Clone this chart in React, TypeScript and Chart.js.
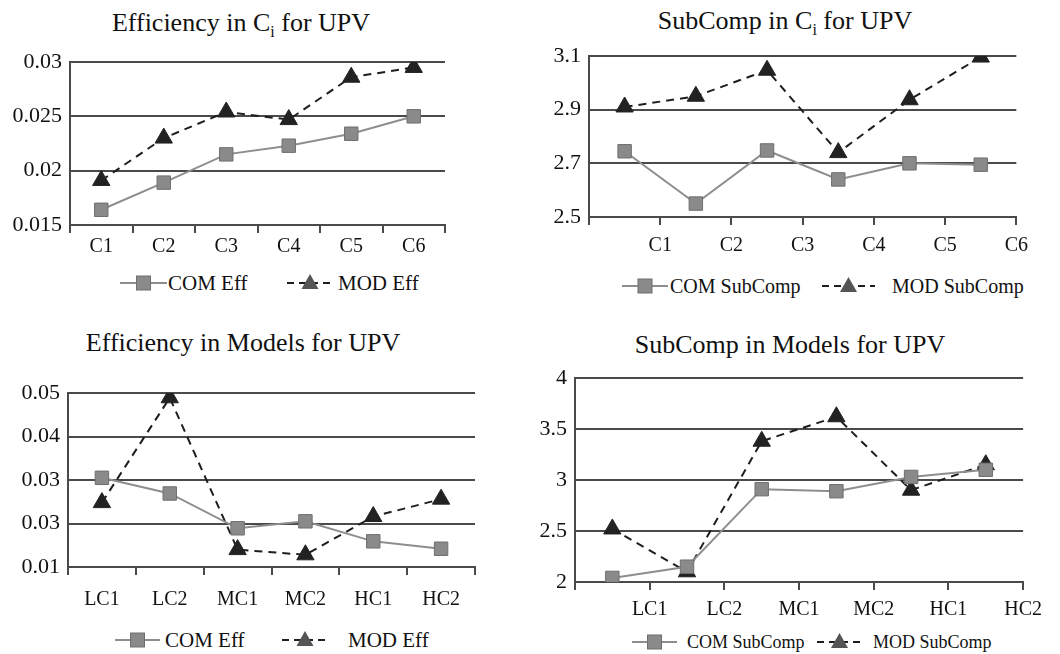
import React, { useEffect, useRef } from "react";
import { Chart, registerables } from "chart.js";

Chart.register(...registerables);

// ---------- data ----------
const ciCategories = ["C1", "C2", "C3", "C4", "C5", "C6"];
const modelCategories = ["LC1", "LC2", "MC1", "MC2", "HC1", "HC2"];

const effCiCom = [0.0164, 0.0189, 0.0215, 0.0223, 0.0234, 0.025];
const effCiMod = [0.0191, 0.023, 0.0254, 0.0247, 0.0286, 0.0295];

const subCiCom = [2.745, 2.55, 2.748, 2.64, 2.7, 2.695];
const subCiMod = [2.91, 2.95, 3.047, 2.74, 2.937, 3.096];

const effModelCom = [0.0305, 0.0269, 0.0189, 0.0205, 0.0159, 0.0142];
const effModelMod = [0.0248, 0.0489, 0.014, 0.0128, 0.0216, 0.0256];

const subModelCom = [2.04, 2.15, 2.91, 2.89, 3.03, 3.1];
const subModelMod = [2.52, 2.1, 3.38, 3.62, 2.9, 3.15];

const effCiTicks = ["0.015", "0.02", "0.025", "0.03"];
const subCiTicks = ["2.5", "2.7", "2.9", "3.1"];
const effModelTicks = ["0.01", "0.03", "0.03", "0.04", "0.05"];
const subModelTicks = ["2", "2.5", "3", "3.5", "4"];

// ---------- styles ----------
const FONT = "'Liberation Serif', 'Times New Roman', serif";
const TEXT = "#111111";
const GRID = "#4a4a4a";
const AXIS = "#4a4a4a";
const COM_LINE = "#8e8e8e";
const COM_FILL = "#8a8a8a";
const COM_EDGE = "#6f6f6f";
const MOD_LINE = "#1e1e1e";
const MOD_FILL = "#222222";

type Panel = {
  left: number;
  top: number;
  width: number;
  height: number;
  padTop: number;
  padRight: number;
  yWidth: number;
  xHeight: number;
  xPad: number;
  categories: string[];
  com: number[];
  mod: number[];
  yMin: number;
  yMax: number;
  yStep: number;
  yTicks: string[];
  shifted: boolean;
};

function buildConfig(p: Panel): any {
  const comData = p.shifted ? p.com.map((v, i) => ({ x: i + 0.5, y: v })) : p.com;
  const modData = p.shifted ? p.mod.map((v, i) => ({ x: i + 0.5, y: v })) : p.mod;

  const tickFontX = { family: FONT, size: 20 };
  const tickFontY = { family: FONT, size: 22 };

  const xScale: any = p.shifted
    ? {
        type: "linear",
        min: 0,
        max: p.categories.length,
        ticks: {
          stepSize: 1,
          autoSkip: false,
          maxRotation: 0,
          padding: p.xPad,
          color: TEXT,
          font: tickFontX,
          callback: (v: number) =>
            v >= 1 && Number.isInteger(v) ? p.categories[v - 1] : "",
        },
        grid: {
          drawOnChartArea: false,
          drawTicks: true,
          tickLength: 8,
          color: AXIS,
          lineWidth: 2,
        },
        border: { display: true, color: AXIS, width: 2 },
        afterFit: (s: any) => {
          s.height = p.xHeight;
        },
      }
    : {
        type: "category",
        labels: p.categories,
        offset: true,
        ticks: {
          autoSkip: false,
          maxRotation: 0,
          padding: p.xPad,
          color: TEXT,
          font: tickFontX,
        },
        grid: {
          offset: true,
          drawOnChartArea: false,
          drawTicks: true,
          tickLength: 8,
          color: AXIS,
          lineWidth: 2,
        },
        border: { display: true, color: AXIS, width: 2 },
        afterFit: (s: any) => {
          s.height = p.xHeight;
        },
      };

  return {
    type: "line",
    data: {
      labels: p.shifted ? undefined : p.categories,
      datasets: [
        {
          label: "COM",
          data: comData,
          borderColor: COM_LINE,
          borderWidth: 2,
          pointStyle: "rect",
          pointRadius: 9.5,
          pointBackgroundColor: COM_FILL,
          pointBorderColor: COM_EDGE,
          pointBorderWidth: 1,
          tension: 0,
          fill: false,
        },
        {
          label: "MOD",
          data: modData,
          borderColor: MOD_LINE,
          borderWidth: 2,
          borderDash: [8, 6],
          pointStyle: "triangle",
          pointRadius: 10,
          pointBackgroundColor: MOD_FILL,
          pointBorderColor: MOD_FILL,
          pointBorderWidth: 1,
          tension: 0,
          fill: false,
        },
      ],
    },
    options: {
      animation: false,
      responsive: true,
      maintainAspectRatio: false,
      layout: {
        padding: { top: p.padTop, right: p.padRight, left: 0, bottom: 0 },
      },
      plugins: {
        legend: { display: false },
        title: { display: false },
        tooltip: { enabled: false },
      },
      scales: {
        x: xScale,
        y: {
          type: "linear",
          min: p.yMin,
          max: p.yMax,
          ticks: {
            stepSize: p.yStep,
            padding: 8,
            color: TEXT,
            font: tickFontY,
            callback: (v: number) => {
              const idx = Math.round((v - p.yMin) / p.yStep);
              return p.yTicks[idx] ?? "";
            },
          },
          grid: {
            drawTicks: false,
            color: GRID,
            lineWidth: 2,
          },
          border: { display: true, color: AXIS, width: 2 },
          afterFit: (s: any) => {
            s.width = p.yWidth;
          },
        },
      },
    },
  };
}

function ChartPanel({ p }: { p: Panel }) {
  const ref = useRef<HTMLCanvasElement | null>(null);
  useEffect(() => {
    if (!ref.current) return;
    const chart = new Chart(ref.current, buildConfig(p));
    return () => chart.destroy();
  }, [p]);
  return (
    <div
      style={{
        position: "absolute",
        left: p.left,
        top: p.top,
        width: p.width,
        height: p.height,
      }}
    >
      <canvas ref={ref} />
    </div>
  );
}

function Title({
  cx,
  top,
  children,
}: {
  cx: number;
  top: number;
  children: React.ReactNode;
}) {
  return (
    <div
      style={{
        position: "absolute",
        left: cx - 250,
        width: 500,
        top,
        textAlign: "center",
        fontFamily: FONT,
        fontSize: 26,
        lineHeight: "26px",
        color: TEXT,
        whiteSpace: "nowrap",
      }}
    >
      {children}
    </div>
  );
}

function LegendItem({
  x,
  cy,
  w,
  textX,
  kind,
  label,
  size,
}: {
  x: number;
  cy: number;
  w: number;
  textX: number;
  kind: "com" | "mod";
  label: string;
  size: number;
}) {
  const h = 24;
  const mid = w / 2;
  return (
    <>
      <svg
        width={w}
        height={h}
        style={{ position: "absolute", left: x, top: cy - h / 2 }}
      >
        {kind === "com" ? (
          <>
            <line x1={0} y1={h / 2} x2={w} y2={h / 2} stroke={COM_LINE} strokeWidth={2} />
            <rect
              x={mid - 7}
              y={h / 2 - 7}
              width={14}
              height={14}
              fill={COM_FILL}
              stroke={COM_EDGE}
              strokeWidth={1}
            />
          </>
        ) : (
          <>
            <line
              x1={0}
              y1={h / 2}
              x2={w}
              y2={h / 2}
              stroke={MOD_LINE}
              strokeWidth={2}
              strokeDasharray="7 5"
            />
            <polygon
              points={`${mid},${h / 2 - 9} ${mid + 8.5},${h / 2 + 6} ${mid - 8.5},${h / 2 + 6}`}
              fill="#555"
            />
          </>
        )}
      </svg>
      <div
        style={{
          position: "absolute",
          left: textX,
          top: cy - 15,
          height: 30,
          lineHeight: "30px",
          fontFamily: FONT,
          fontSize: size,
          color: TEXT,
          whiteSpace: "nowrap",
        }}
      >
        {label}
      </div>
    </>
  );
}

const panel1: Panel = {
  left: 0, top: 40, width: 465, height: 225, padTop: 22, padRight: 20,
  yWidth: 70, xHeight: 40, xPad: 2,
  categories: ciCategories, com: effCiCom, mod: effCiMod,
  yMin: 0.015, yMax: 0.03, yStep: 0.005, yTicks: effCiTicks, shifted: false,
};
const panel2: Panel = {
  left: 520, top: 34, width: 517, height: 223, padTop: 22, padRight: 20,
  yWidth: 69, xHeight: 40, xPad: 9,
  categories: ciCategories, com: subCiCom, mod: subCiMod,
  yMin: 2.5, yMax: 3.1, yStep: 0.2, yTicks: subCiTicks, shifted: true,
};
const panel3: Panel = {
  left: 0, top: 371, width: 495, height: 241, padTop: 22, padRight: 20,
  yWidth: 68, xHeight: 45, xPad: 13,
  categories: modelCategories, com: effModelCom, mod: effModelMod,
  yMin: 0.01, yMax: 0.05, yStep: 0.01, yTicks: effModelTicks, shifted: false,
};
const panel4: Panel = {
  left: 520, top: 356, width: 530, height: 266, padTop: 22, padRight: 20,
  yWidth: 55, xHeight: 40, xPad: 8,
  categories: modelCategories, com: subModelCom, mod: subModelMod,
  yMin: 2, yMax: 4, yStep: 0.5, yTicks: subModelTicks, shifted: true,
};

export default function App() {
  return (
    <div
      style={{
        position: "absolute",
        left: 0,
        top: 0,
        width: 1060,
        height: 654,
        background: "#ffffff",
        overflow: "hidden",
      }}
    >
      <Title cx={241} top={10}>
        Efficiency in C<sub style={{ fontSize: 16 }}>i</sub> for UPV
      </Title>
      <Title cx={785} top={8}>
        SubComp in C<sub style={{ fontSize: 16 }}>i</sub> for UPV
      </Title>
      <Title cx={243} top={330}>
        Efficiency in Models for UPV
      </Title>
      <Title cx={790} top={332}>
        SubComp in Models for UPV
      </Title>

      <ChartPanel p={panel1} />
      <ChartPanel p={panel2} />
      <ChartPanel p={panel3} />
      <ChartPanel p={panel4} />

      <LegendItem x={120} cy={283} w={47} textX={168} kind="com" label="COM Eff" size={21} />
      <LegendItem x={287} cy={283} w={46} textX={338} kind="mod" label="MOD Eff" size={21} />

      <LegendItem x={622} cy={286} w={46} textX={670} kind="com" label="COM SubComp" size={20} />
      <LegendItem x={822} cy={286} w={53} textX={892} kind="mod" label="MOD SubComp" size={20} />

      <LegendItem x={115} cy={640} w={45} textX={165} kind="com" label="COM Eff" size={21} />
      <LegendItem x={282} cy={640} w={46} textX={348} kind="mod" label="MOD Eff" size={21} />

      <LegendItem x={632} cy={642} w={45} textX={687} kind="com" label="COM SubComp" size={18} />
      <LegendItem x={817} cy={642} w={45} textX={873} kind="mod" label="MOD SubComp" size={18} />
    </div>
  );
}
